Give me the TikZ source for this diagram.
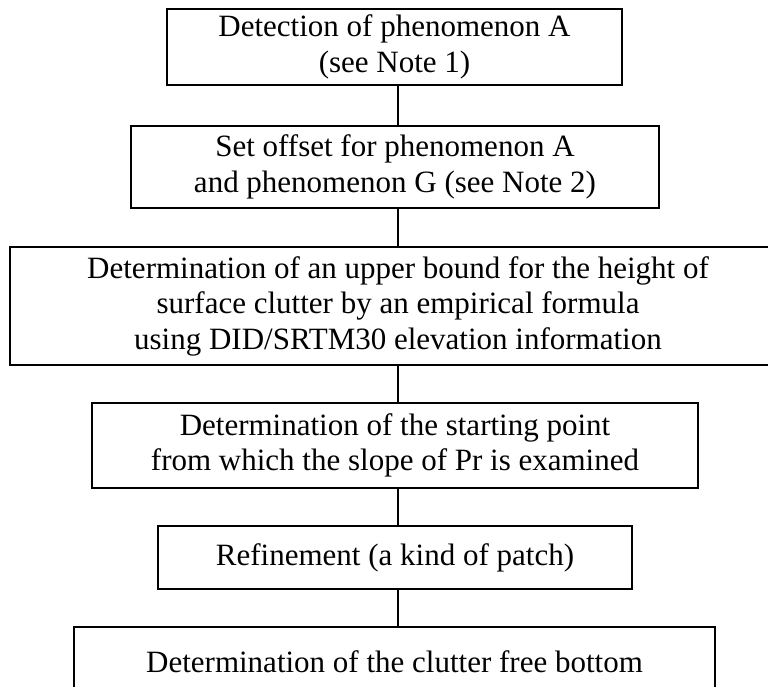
\documentclass[tikz,border=0pt]{standalone}
\usepackage{fontspec}
\setmainfont{Liberation Serif}
\usetikzlibrary{positioning}
\tikzset{
  stepbox/.style={draw, line width=1.2pt, inner sep=0pt, align=center,
    font=\fontsize{31}{35.5}\selectfont},
  link/.style={line width=1.2pt}
}
\begin{document}
\begin{tikzpicture}[x=1pt,y=-1pt]
      \useasboundingbox (0,0) rectangle (768,686);
      \coordinate (spine) at (398,0);
      \node[stepbox, minimum width=455pt, minimum height=76pt] (detect) at (394.5,47)
        {Detection of phenomenon A\\(see Note 1)};
      \node[stepbox, minimum width=528pt, minimum height=82pt] (offset) at (395,167)
        {Set offset for phenomenon A\\and phenomenon G (see Note 2)};
      \node[stepbox, minimum width=776pt, minimum height=118pt] (bound) at (398,306)
        {Determination of an upper bound for the height of\\surface clutter by an empirical formula\\using DID/SRTM30 elevation information};
      \node[stepbox, minimum width=606pt, minimum height=85pt] (start) at (395,445.5)
        {Determination of the starting point\\from which the slope of Pr is examined};
      \node[stepbox, minimum width=474pt, minimum height=63pt] (refine) at (395,557.5)
        {Refinement (a kind of patch)};
      \node[stepbox, minimum width=641pt, minimum height=70pt] (bottom) at (394.5,662)
        {Determination of the clutter free bottom};
      \begin{scope}[link]
        \draw (detect.south -| spine) to (offset.north -| spine);
        \draw (offset.south -| spine) to (bound.north -| spine);
        \draw (bound.south -| spine) to (start.north -| spine);
        \draw (start.south -| spine) to (refine.north -| spine);
        \draw (refine.south -| spine) to (bottom.north -| spine);
      \end{scope}
    \end{tikzpicture}
\end{document}
